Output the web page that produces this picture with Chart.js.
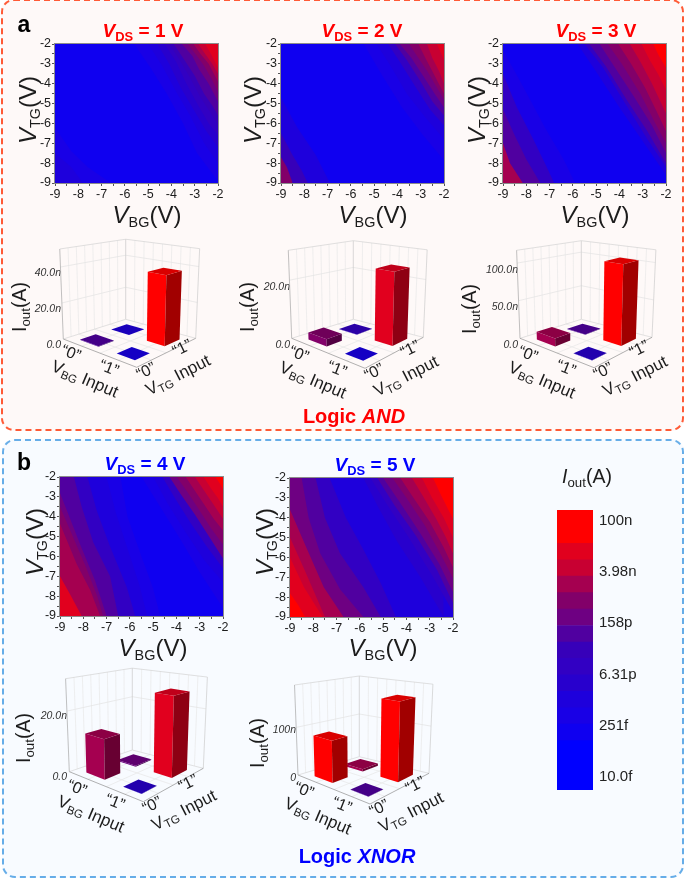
<!DOCTYPE html>
<html>
<head>
<meta charset="utf-8">
<title>Logic AND and XNOR maps</title>
<script src="https://cdn.jsdelivr.net/npm/chart.js@4"></script>
<style>
html, body { margin: 0; padding: 0; background: #fff; }
#page { position: relative; width: 685px; height: 879px; overflow: hidden; font-family: "Liberation Sans", Arial, sans-serif; }
.box { position: absolute; box-sizing: border-box; border-radius: 13px; border-width: 2px; border-style: dashed; }
canvas { position: absolute; }
.t { position: absolute; white-space: nowrap; color: #1c1c1c; line-height: 1; }
.t sub { font-size: .68em; vertical-align: baseline; position: relative; top: .3em; line-height: 0; font-style: normal; }
.big sub { font-size: .6em; }
</style>
</head>
<body>
<div id="page">
	<div class="box" style="left:1px;top:-1px;width:683px;height:432px;border-color:#ff5a36;background:#fef9f8"></div>
	<div class="box" style="left:2px;top:439px;width:682px;height:439px;border-color:#66ade8;background:#f8fbff"></div>
</div>
<script>
// colour bands of the scale bar, blue to red
var levelColors = ["#0000ff", "#0f00f0", "#1900e6", "#1e00dc", "#2800cd", "#3200c3", "#3700b9", "#5000a0", "#6e0082", "#820069", "#a50050", "#c80032", "#e1001e", "#ff0000"];
var bandEdges = [-14.36, -13.01, -12.56, -12.11, -11.66, -11.21, -10.76, -10.31, -9.86, -9.41, -8.96, -8.51, -8.06, -7.61, -6.70];
var scaleTicks = [-14, -12.6, -11.2, -9.8, -8.4, -7];
var scaleLabels = ["10.0f", "251f", "6.31p", "158p", "3.98n", "100n"];

// contour lines: [level, [x, y, x, y, ...]]
var v1TopRight = [
	[2, [-5.6, -2, -4.9, -3.2, -4.2, -4.5, -3.5, -6, -2.9, -7.5, -2, -8.9]],
	[3, [-5.0, -2, -4.4, -3.1, -3.8, -4.4, -3.2, -5.6, -2.6, -7, -2, -8.0]],
	[4, [-4.6, -2, -4.1, -3.0, -3.6, -4.2, -3.0, -5.4, -2.5, -6.4, -2, -7.2]],
	[5, [-4.3, -2, -3.8, -2.9, -3.4, -3.9, -2.9, -5.0, -2.4, -6, -2, -6.6]],
	[6, [-4.1, -2, -3.7, -2.7, -3.2, -3.7, -2.75, -4.7, -2.3, -5.5, -2, -6.1]],
	[7, [-3.9, -2, -3.5, -2.7, -3.0, -3.6, -2.6, -4.5, -2.25, -5.1, -2, -5.6]],
	[8, [-3.55, -2, -3.1, -2.6, -2.8, -3.3, -2.4, -4.0, -2, -4.9]],
	[9, [-3.3, -2, -2.9, -2.6, -2.6, -3.1, -2.3, -3.7, -2, -4.4]],
	[10, [-3.05, -2, -2.75, -2.5, -2.4, -3.0, -2, -3.9]],
	[11, [-2.85, -2, -2.55, -2.5, -2.25, -3.0, -2, -3.5]],
	[12, [-2.55, -2, -2.3, -2.5, -2, -3.2]]
];
var v1BottomLeft = [
	[2, [-9, -6.2, -8.3, -7.4, -7.6, -8.2, -6.6, -9]],
	[3, [-9, -7.5, -8.3, -8.2, -7.8, -9]]
];
var v2TopRight = [
	[2, [-5.45, -2, -4.7, -3.5, -3.8, -5.2, -2.9, -6.6, -2, -7.85]],
	[3, [-4.9, -2, -4.3, -3.1, -3.6, -4.5, -2.8, -5.7, -2, -6.8]],
	[5, [-4.4, -2, -3.9, -2.9, -3.2, -4.2, -2.6, -5.3, -2, -6.1]],
	[7, [-4.1, -2, -3.6, -2.8, -3.0, -3.9, -2.5, -4.9, -2, -5.6]],
	[8, [-3.9, -2, -3.4, -2.7, -2.9, -3.6, -2.4, -4.5, -2, -5.2]],
	[9, [-3.5, -2, -3.1, -2.7, -2.7, -3.4, -2.3, -4.2, -2, -4.8]],
	[10, [-3.1, -2, -2.8, -2.7, -2.4, -3.6, -2, -4.5]],
	[11, [-2.73, -2, -2.5, -2.7, -2.2, -3.4, -2, -4]],
	[12, [-2.3, -2, -2.15, -2.4, -2, -2.8]]
];
var v2BottomLeft = [
	[3, [-9, -4.7, -8.3, -6.2, -7.5, -7.6, -6.9, -9]],
	[6, [-9, -6.5, -8.5, -7.6, -8.1, -8.4, -7.85, -9]],
	[9, [-9, -7.7, -8.75, -8.2, -8.5, -9]]
];
var v3TopRight = [
	[3, [-5.8, -2, -5.0, -3.4, -4.0, -5.2, -3.0, -6.9, -2, -8.6]],
	[5, [-5.5, -2, -4.7, -3.2, -3.7, -5.1, -2.8, -6.8, -2, -8.2]],
	[7, [-5.3, -2, -4.6, -3.1, -3.7, -4.8, -2.8, -6.4, -2, -8]],
	[8, [-4.85, -2, -4.3, -3, -3.4, -4.6, -2.6, -6.1, -2, -7.5]],
	[9, [-4.5, -2, -3.9, -3, -3.1, -4.5, -2.5, -5.9, -2, -7]],
	[10, [-4.05, -2, -3.5, -3, -2.9, -4.2, -2.4, -5.4, -2, -6.4]],
	[11, [-3.55, -2, -3.1, -2.9, -2.6, -4, -2.2, -5, -2, -5.5]],
	[12, [-3.05, -2, -2.7, -2.8, -2.35, -3.5, -2, -4.3]],
	[13, [-2.55, -2, -2.3, -2.6, -2, -3.2]]
];
var v3BottomLeft = [
	[2, [-9, -2.3, -8.2, -4, -7.2, -6.2, -6.4, -7.8, -5.9, -9]],
	[5, [-9, -3.5, -8.4, -5.2, -7.7, -6.8, -7.2, -8, -6.8, -9]],
	[7, [-9, -5.3, -8.5, -6.6, -8, -7.8, -7.4, -9]],
	[10, [-9, -7, -8.7, -8, -8.15, -9]]
];
var v4TopRight = [
	[2, [-5.5, -2, -4.7, -3.5, -3.8, -5.2, -3.0, -6.8, -2, -8.6]],
	[3, [-5, -2, -4.4, -3.3, -3.6, -4.8, -2.8, -6.2, -2, -7.3]],
	[5, [-4.6, -2, -4.1, -3.0, -3.4, -4.3, -2.7, -5.5, -2, -6.6]],
	[8, [-4.3, -2, -3.8, -2.9, -3.2, -3.9, -2.6, -5, -2, -6.1]],
	[9, [-3.98, -2, -3.5, -2.8, -3, -3.7, -2.5, -4.6, -2, -5.4]],
	[10, [-3.6, -2, -3.2, -2.7, -2.8, -3.4, -2.4, -4.1, -2, -4.7]],
	[11, [-3.2, -2, -2.8, -2.7, -2.4, -3.4, -2, -4.1]],
	[12, [-2.83, -2, -2.5, -2.6, -2.2, -3.1, -2, -3.5]],
	[13, [-2.33, -2, -2.15, -2.3, -2, -2.6]]
];
var v4BottomLeft = [
	[2, [-9, -2, -6.4, -2, -6.1, -4, -5.5, -6, -5.0, -7.6, -4.7, -9]],
	[3, [-9, -2, -7.0, -2, -6.6, -3.8, -6.1, -5.6, -5.6, -7.4, -5.25, -9]],
	[5, [-9, -2, -7.82, -2, -7.42, -3.7, -6.85, -5.5, -6.13, -7.55, -5.77, -9]],
	[7, [-9, -2, -8.4, -2, -8.07, -3.5, -7.57, -5.3, -6.85, -7, -6.5, -9]],
	[8, [-9, -2.8, -8.6, -4, -8.1, -5.5, -7.5, -7.2, -7, -9]],
	[9, [-9, -3.5, -8.45, -5, -7.9, -6.5, -7.4, -8, -7.15, -9]],
	[10, [-9, -4.35, -8.28, -6.4, -7.7, -7.7, -7.28, -9]],
	[12, [-9, -7, -8.57, -7.9, -8.07, -9]]
];
var v5TopRight = [
	[4, [-5.85, -2, -5.2, -3.5, -4.4, -5.2, -3.4, -7, -2.4, -9]],
	[5, [-5.55, -2, -4.8, -3.4, -3.9, -5, -2.9, -6.9, -2, -8.75]],
	[7, [-5.25, -2, -4.5, -3.4, -3.6, -4.9, -2.7, -6.6, -2, -8.3]],
	[8, [-5, -2, -4.3, -3.2, -3.4, -4.8, -2.6, -6.3, -2, -7.75]],
	[9, [-4.6, -2, -4, -3, -3.2, -4.4, -2.5, -5.9, -2, -7.05]],
	[10, [-4.26, -2, -3.7, -3, -3, -4.2, -2.4, -5.5, -2, -6.5]],
	[11, [-3.76, -2, -3.3, -2.9, -2.7, -4.1, -2.3, -5, -2, -5.8]],
	[12, [-3.33, -2, -2.9, -3, -2.4, -4, -2, -5]],
	[13, [-2.86, -2, -2.5, -2.9, -2.2, -3.6, -2, -4.05]]
];
var v5BottomLeft = [
	[5, [-9, -2, -7.3, -2, -6.6, -4, -5.85, -5.6, -5.1, -7.3, -4.45, -9]],
	[7, [-9, -2, -7.9, -2, -7.5, -4, -6.85, -5.8, -5.85, -7.5, -5.1, -9]],
	[8, [-9, -2, -8.5, -2, -8.2, -4, -7.7, -5.8, -6.85, -7.6, -5.85, -9]],
	[10, [-9, -3.6, -8.3, -5.5, -7.55, -7.5, -6.7, -9]],
	[11, [-9, -5, -8.35, -6.7, -7.5, -9]],
	[12, [-9, -6, -8.4, -7.5, -7.6, -9]],
	[13, [-9, -7.8, -8.65, -8.4, -8.35, -9]]
];

// bar heights in nA, in the order (BG,TG) 00, 01, 10, 11
var barCategories = ["00", "01", "10", "11"];
var and1Values = [0.2, 0.05, 0.02, 38];
var and2Values = [2.4, 0.1, 0.03, 24.5];
var and3Values = [10, 0.5, 0.1, 104];
var xnor4Values = [12.8, 0.3, 0.05, 26.2];
var xnor5Values = [85, 5, 0.5, 163];
var and1Levels = [7, 3, 2, 13];
var and2Levels = [9, 5, 2, 12];
var and3Levels = [10, 7, 4, 13];
var xnor4Levels = [10, 8, 4, 12];
var xnor5Levels = [13, 10, 7, 13];
var and1Ticks = [0, 20, 40], and1TickLabels = ["0.0", "20.0n", "40.0n"];
var and2Ticks = [0, 20], and2TickLabels = ["0.0", "20.0n"];
var and3Ticks = [0, 50, 100], and3TickLabels = ["0.0", "50.0n", "100.0n"];
var xnor4Ticks = [0, 20], xnor4TickLabels = ["0.0", "20.0n"];
var xnor5Ticks = [0, 100], xnor5TickLabels = ["0", "100n"];

Chart.defaults.font.family = '"Liberation Sans", Arial, sans-serif';
Chart.defaults.animation = false;
Chart.defaults.responsive = false;
Chart.defaults.plugins.legend.display = false;
Chart.defaults.plugins.tooltip.enabled = false;

var page = document.getElementById("page");

function addCanvas(x, y, w, h) {
	var c = document.createElement("canvas");
	c.width = w;
	c.height = h;
	c.style.left = x + "px";
	c.style.top = y + "px";
	page.appendChild(c);
	return c;
}

function addText(html, x, y, size, opts) {
	opts = opts || {};
	var d = document.createElement("div");
	d.className = "t" + (opts.big ? " big" : "");
	d.innerHTML = html;
	d.style.left = x + "px";
	d.style.top = y + "px";
	d.style.fontSize = size + "px";
	if (opts.color) d.style.color = opts.color;
	if (opts.bold) d.style.fontWeight = "bold";
	d.style.transform = "translate(-50%,-50%) rotate(" + (opts.rot || 0) + "deg)";
	page.appendChild(d);
}

var framePlugin = {
	id: "frame",
	afterDraw: function(chart) {
		var a = chart.chartArea, ctx = chart.ctx;
		ctx.save();
		ctx.strokeStyle = "#8c8c8c";
		ctx.lineWidth = 1;
		ctx.strokeRect(a.left - 0.5, a.top - 0.5, a.right - a.left + 1, a.bottom - a.top + 1);
		ctx.restore();
	}
};

function toPoints(flat) {
	var pts = [];
	for (var i = 0; i < flat.length; i += 2) pts.push({ x: flat[i], y: flat[i + 1] });
	return pts;
}

function heatmap(left, top, baseLevel, topRight, bottomLeft) {
	var w = 163, h = 139;
	var lines = [];
	topRight.forEach(function(c) { lines.push({ level: c[0], pts: c[1], fill: "end" }); });
	bottomLeft.forEach(function(c) { lines.push({ level: c[0], pts: c[1], fill: "start" }); });
	lines.sort(function(p, q) { return q.level - p.level; });
	var datasets = lines.map(function(c) {
		return { data: toPoints(c.pts), showLine: true, fill: c.fill, backgroundColor: levelColors[c.level], borderWidth: 0, pointRadius: 0 };
	});
	// whole plot in the lowest level
	datasets.push({ data: toPoints([-9, -9, -2, -9]), showLine: true, fill: "end", backgroundColor: levelColors[baseLevel], borderWidth: 0, pointRadius: 0 });
	var tickOpts = {
		stepSize: 0.5,
		autoSkip: false,
		maxRotation: 0,
		color: "#1c1c1c",
		padding: 1,
		font: { size: 12.5 },
		callback: function(v) { return Number.isInteger(v) ? String(v) : ""; }
	};
	new Chart(addCanvas(left - 42, top - 10, w + 54, h + 32), {
		type: "scatter",
		data: { datasets: datasets },
		options: {
			layout: { padding: { top: 10, right: 12, left: 0, bottom: 0 } },
			scales: {
				x: { type: "linear", min: -9, max: -2, ticks: tickOpts, border: { color: "#8c8c8c" },
					grid: { drawOnChartArea: false, tickLength: 3, color: "#555" },
					afterFit: function(s) { s.height = 22; } },
				y: { type: "linear", min: -9, max: -2, ticks: tickOpts, border: { color: "#8c8c8c" },
					grid: { drawOnChartArea: false, tickLength: 3, color: "#555" },
					afterFit: function(s) { s.width = 42; } }
			}
		},
		plugins: [framePlugin]
	});
}

function shade(hex, f) {
	var n = parseInt(hex.slice(1), 16);
	return "rgb(" + Math.round((n >> 16 & 255) * f) + "," + Math.round((n >> 8 & 255) * f) + "," + Math.round((n & 255) * f) + ")";
}

// the floor is drawn between four corners, heights come from the y scale of the chart
var bars3dPlugin = {
	id: "bars3d",
	afterDatasetsDraw: function(chart, args, o) {
		var ctx = chart.ctx, g = o.corners, yScale = chart.scales.y;
		var sAxis = 1 + 0.0063 * (g.L.y - g.B.y);
		function floor(a, b) {
			return {
				x: (1 - a) * (1 - b) * g.L.x + a * (1 - b) * g.F.x + (1 - a) * b * g.B.x + a * b * g.R.x,
				y: (1 - a) * (1 - b) * g.L.y + a * (1 - b) * g.F.y + (1 - a) * b * g.B.y + a * b * g.R.y
			};
		}
		function lift(p, z) {
			var h = z * (1 + 0.0063 * (p.y - g.B.y));
			return { x: p.x + (p.x - g.B.x) * 6.3e-4 * h, y: p.y - h };
		}
		function line(p, q, color) {
			ctx.strokeStyle = color;
			ctx.beginPath();
			ctx.moveTo(p.x, p.y);
			ctx.lineTo(q.x, q.y);
			ctx.stroke();
		}
		function poly(pts, color) {
			ctx.fillStyle = color;
			ctx.beginPath();
			pts.forEach(function(p, i) { if (i) ctx.lineTo(p.x, p.y); else ctx.moveTo(p.x, p.y); });
			ctx.closePath();
			ctx.fill();
		}
		var zTop = (yScale.bottom - yScale.top) / sAxis;
		ctx.save();
		ctx.lineWidth = 0.7;
		var i, t;
		for (i = 1; i < 4; i++) {
			t = i / 4;
			line(floor(t, 0), floor(t, 1), "#e6e6e6");
			line(floor(0, t), floor(1, t), "#e6e6e6");
		}
		for (i = 1; i < 8; i++) {
			t = i / 8;
			line(floor(0, t), lift(floor(0, t), zTop), "#e8e8e8");
			line(floor(t, 1), lift(floor(t, 1), zTop), "#e8e8e8");
		}
		yScale.ticks.forEach(function(tick) {
			var z = (yScale.bottom - yScale.getPixelForValue(tick.value)) / sAxis;
			if (z <= 0) return;
			line(lift(floor(0, 0), z), lift(floor(0, 1), z), "#e2e2e2");
			line(lift(floor(0, 1), z), lift(floor(1, 1), z), "#e2e2e2");
		});
		line(lift(floor(0, 0), zTop), lift(floor(0, 1), zTop), "#d2d2d2");
		line(lift(floor(0, 1), zTop), lift(floor(1, 1), zTop), "#d2d2d2");
		line(floor(0, 0), lift(floor(0, 0), zTop), "#a6a6a6");
		line(floor(0, 1), lift(floor(0, 1), zTop), "#c8c8c8");
		line(floor(1, 1), lift(floor(1, 1), zTop), "#cccccc");
		line(floor(0, 0), floor(0, 1), "#d6d6d6");
		line(floor(0, 1), floor(1, 1), "#d6d6d6");
		line(floor(0, 0), floor(1, 0), "#8f8f8f");
		line(floor(1, 0), floor(1, 1), "#8f8f8f");

		// back, left, right, front so that near bars cover far ones
		var meta = chart.getDatasetMeta(0), w = 0.125;
		[[1, 0.25, 0.75], [0, 0.25, 0.25], [3, 0.75, 0.75], [2, 0.75, 0.25]].forEach(function(b) {
			var el = meta.data[b[0]], z = (el.base - el.y) / sAxis, color = levelColors[o.levels[b[0]]];
			var l = floor(b[1] - w, b[2] - w), f = floor(b[1] + w, b[2] - w), r = floor(b[1] + w, b[2] + w), k = floor(b[1] - w, b[2] + w);
			var lt = lift(l, z), ft = lift(f, z), rt = lift(r, z), kt = lift(k, z);
			poly([l, f, ft, lt], color);
			poly([f, r, rt, ft], shade(color, 0.63));
			poly([lt, ft, rt, kt], shade(color, 0.85));
		});
		ctx.restore();
	}
};

function bars3d(values, levels, ticks, tickLabels, yMax, plotTop, plotBottom, corners) {
	var ox = Math.round(corners.L.x) - 60, oy = plotTop - 26, w = 215, h = plotBottom - oy + 50;
	var g = {};
	["L", "B", "F", "R"].forEach(function(k) { g[k] = { x: corners[k].x - ox, y: corners[k].y - oy }; });
	new Chart(addCanvas(ox, oy, w, h), {
		type: "bar",
		data: { labels: barCategories, datasets: [{ data: values, backgroundColor: "rgba(0,0,0,0)" }] },
		options: {
			layout: { padding: { top: 26, bottom: 50, right: 5, left: 0 } },
			plugins: { bars3d: { corners: g, levels: levels } },
			scales: {
				x: { display: false },
				y: {
					min: 0, max: yMax,
					border: { display: false },
					grid: { display: false, drawTicks: false },
					afterBuildTicks: function(s) { s.ticks = ticks.map(function(v) { return { value: v }; }); },
					afterFit: function(s) { s.width = 58; },
					ticks: { padding: 0, color: "#333", font: { size: 10.5, style: "italic" },
						callback: function(v, i) { return tickLabels[i]; } }
				}
			}
		},
		plugins: [bars3dPlugin]
	});
	// axis words follow the front edges of the floor
	var F = corners.F;
	addText("“0”", F.x - 66, F.y - 14, 16, { rot: 22 });
	addText("“1”", F.x - 28, F.y + 0.5, 16, { rot: 22 });
	addText("V<sub>BG</sub> Input", F.x - 52, F.y + 12, 17, { rot: 23 });
	addText("“0”", F.x + 9, F.y + 3.5, 16, { rot: -26 });
	addText("“1”", F.x + 45, F.y - 19, 16, { rot: -26 });
	addText("V<sub>TG</sub> Input", F.x + 41, F.y + 8, 17, { rot: -27 });
}

heatmap(55, 44, 1, v1TopRight, v1BottomLeft);
heatmap(281, 44, 1, v2TopRight, v2BottomLeft);
heatmap(503, 44, 1, v3TopRight, v3BottomLeft);
heatmap(60, 477, 1, v4TopRight, v4BottomLeft);
heatmap(290, 478, 3, v5TopRight, v5BottomLeft);

bars3d(and1Values, and1Levels, and1Ticks, and1TickLabels, 50, 255, 345, { L: { x: 63.3, y: 339 }, B: { x: 125.7, y: 319.3 }, F: { x: 136.7, y: 367.3 }, R: { x: 195.7, y: 338.3 } });
bars3d(and2Values, and2Levels, and2Ticks, and2TickLabels, 30.3, 257, 345, { L: { x: 291.7, y: 338.3 }, B: { x: 353.3, y: 319.3 }, F: { x: 365, y: 368.3 }, R: { x: 423.3, y: 337.3 } });
bars3d(and3Values, and3Levels, and3Ticks, and3TickLabels, 117, 257, 345, { L: { x: 520, y: 338.3 }, B: { x: 581.3, y: 319.3 }, F: { x: 594, y: 367.7 }, R: { x: 652, y: 337.3 } });
bars3d(xnor4Values, xnor4Levels, xnor4Ticks, xnor4TickLabels, 30.7, 684, 777, { L: { x: 69.3, y: 771.7 }, B: { x: 132.3, y: 750 }, F: { x: 143.3, y: 801.7 }, R: { x: 203.3, y: 768.3 } });
bars3d(xnor5Values, xnor5Levels, xnor5Ticks, xnor5TickLabels, 189, 688, 778, { L: { x: 298, y: 775 }, B: { x: 359.3, y: 756.7 }, F: { x: 370, y: 804 }, R: { x: 429, y: 773.3 } });

// scale bar
var bandData = levelColors.map(function(c, i) {
	return { data: [[bandEdges[i], bandEdges[i + 1]]], backgroundColor: c, barPercentage: 1, categoryPercentage: 1 };
});
new Chart(addCanvas(557, 490, 96, 320), {
	type: "bar",
	data: { labels: ["Iout"], datasets: bandData },
	options: {
		layout: { padding: { top: 20, bottom: 20, left: 0, right: 0 } },
		scales: {
			x: { display: false, stacked: true },
			y: {
				position: "right", min: bandEdges[0], max: bandEdges[bandEdges.length - 1],
				border: { display: false },
				grid: { display: false, drawTicks: false },
				afterBuildTicks: function(s) { s.ticks = scaleTicks.map(function(v) { return { value: v }; }); },
				afterFit: function(s) { s.width = 60; },
				ticks: { padding: 6, color: "#222", font: { size: 15 },
					callback: function(v, i) { return scaleLabels[i]; } }
			}
		}
	}
});

// words
var RED = "#ff0000", BLUE = "#0000ff";
addText("a", 24, 24, 23, { bold: true, color: "#000" });
addText("b", 24, 462, 23, { bold: true, color: "#000" });
addText("<i>V</i><sub>DS</sub> = 1 V", 143, 30, 19, { bold: true, color: RED });
addText("<i>V</i><sub>DS</sub> = 2 V", 362, 30, 19, { bold: true, color: RED });
addText("<i>V</i><sub>DS</sub> = 3 V", 596, 30, 19, { bold: true, color: RED });
addText("<i>V</i><sub>DS</sub> = 4 V", 145, 463, 19, { bold: true, color: BLUE });
addText("<i>V</i><sub>DS</sub> = 5 V", 375, 464, 19, { bold: true, color: BLUE });
addText("Logic <i>AND</i>", 354, 416, 20, { bold: true, color: RED });
addText("Logic <i>XNOR</i>", 357, 856, 20, { bold: true, color: BLUE });
addText("<i>I</i><sub>out</sub>(A)", 587, 477, 19.5);

var vBG = "<i>V</i><sub>BG</sub>(V)", vTG = "<i>V</i><sub>TG</sub>(V)";
addText(vBG, 147, 215, 24, { big: true });
addText(vBG, 373, 215, 24, { big: true });
addText(vBG, 595, 215, 24, { big: true });
addText(vBG, 153, 648, 24, { big: true });
addText(vBG, 383, 648, 24, { big: true });
addText(vTG, 28, 110, 24, { rot: -90, big: true });
addText(vTG, 253, 110, 24, { rot: -90, big: true });
addText(vTG, 477, 110, 24, { rot: -90, big: true });
addText(vTG, 35, 542, 24, { rot: -90, big: true });
addText(vTG, 265, 542, 24, { rot: -90, big: true });

var iOut = "I<sub>out</sub>(A)";
addText(iOut, 20, 307, 19.5, { rot: -90 });
addText(iOut, 248, 307, 19.5, { rot: -90 });
addText(iOut, 470, 309, 19.5, { rot: -90 });
addText(iOut, 24, 738, 19.5, { rot: -90 });
addText(iOut, 258, 743, 19.5, { rot: -90 });
</script>
</body>
</html>
